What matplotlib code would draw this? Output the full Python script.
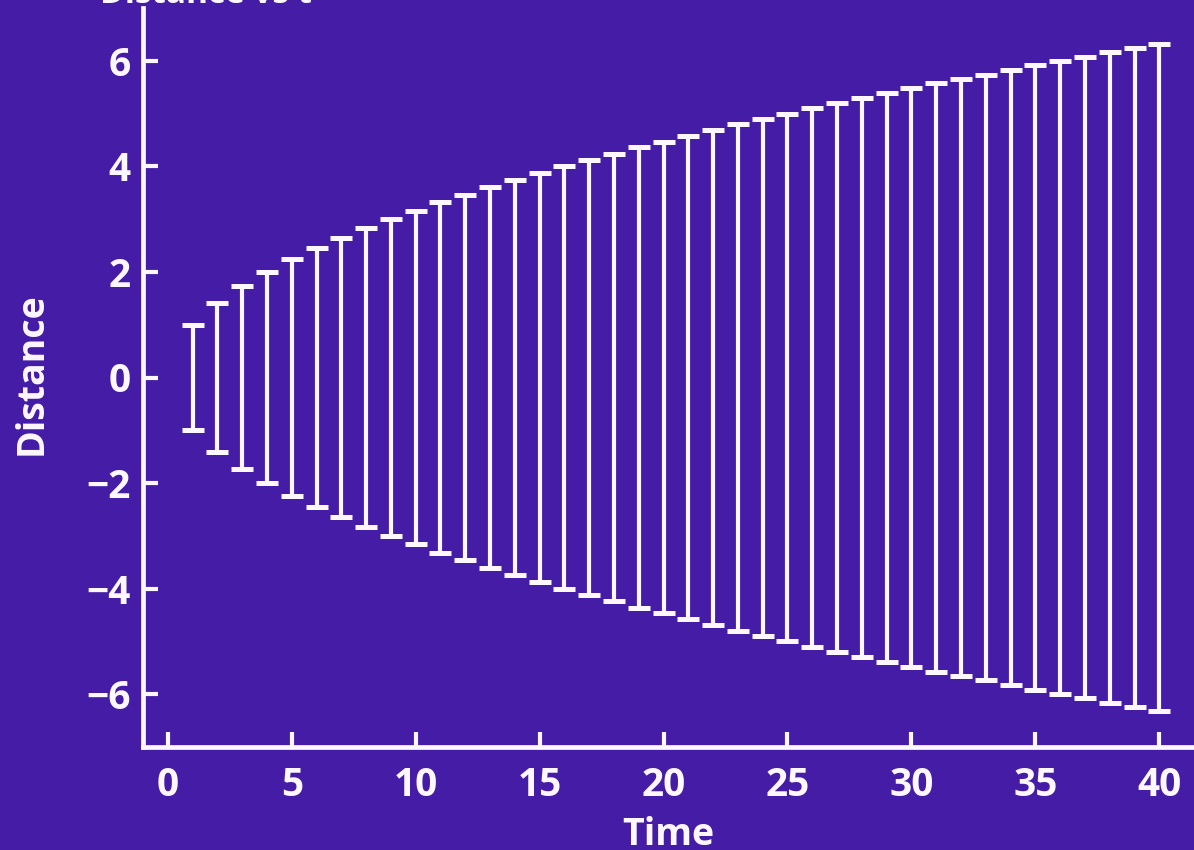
import matplotlib
matplotlib.use("Agg")
import matplotlib.pyplot as plt

# time steps and spread
times = list(range(1, 41))
centres = [0] * 40
spread = [1.0, 1.41, 1.73, 2.0, 2.24, 2.45, 2.65, 2.83, 3.0, 3.16,
          3.32, 3.46, 3.61, 3.74, 3.87, 4.0, 4.12, 4.24, 4.36, 4.47,
          4.58, 4.69, 4.80, 4.90, 5.0, 5.10, 5.20, 5.29, 5.39, 5.48,
          5.57, 5.66, 5.74, 5.83, 5.92, 6.0, 6.08, 6.16, 6.24, 6.32]
xticks = [0, 5, 10, 15, 20, 25, 30, 35, 40]
yticks = [-6, -4, -2, 0, 2, 4, 6]

fondo = "#451ca5"
blanco = "#fdf8ff"

plt.rcParams['font.family'] = ['Open Sans', 'DejaVu Sans']
plt.rcParams['font.weight'] = 'bold'

fig = plt.figure(figsize=(11.94, 8.5), dpi=100, facecolor=fondo)
ax = fig.add_axes([143 / 1194, 1 - 747 / 850, 1 - 143 / 1194, (747 - 8) / 850])
ax.set_facecolor(fondo)

ax.errorbar(times, centres, yerr=spread, fmt='none', ecolor=blanco,
            elinewidth=3.0, capsize=8, capthick=3.6)

ax.set_xlim(-1, 41.4)
ax.set_ylim(-7, 7)
ax.set_xticks(xticks)
ax.set_yticks(yticks)
ax.set_yticklabels([str(v).replace('-', '\u2212') for v in yticks])

for lado in ['top', 'right']:
    ax.spines[lado].set_visible(False)
for lado in ['left', 'bottom']:
    ax.spines[lado].set_color(blanco)
    ax.spines[lado].set_linewidth(3.4)

ax.tick_params(direction='in', length=11, width=3.0, colors=blanco,
               labelsize=28)
ax.tick_params(axis='y', pad=9)
ax.tick_params(axis='x', pad=14)

ax.set_xlabel('Time', color=blanco, fontsize=27, fontweight='bold')
ax.set_ylabel('Distance', color=blanco, fontsize=27, fontweight='bold')
ax.xaxis.set_label_coords(0.5, -0.093)
ax.yaxis.set_label_coords(-0.088, 0.505)

# title sits mostly above the canvas, only the bottom shows
fig.text(100 / 1194, 1 - 3 / 850, 'Distance vs t', color=blanco, fontsize=24,
         fontweight='bold', va='baseline', ha='left')

fig.savefig('out.png', dpi=100, facecolor=fondo)
